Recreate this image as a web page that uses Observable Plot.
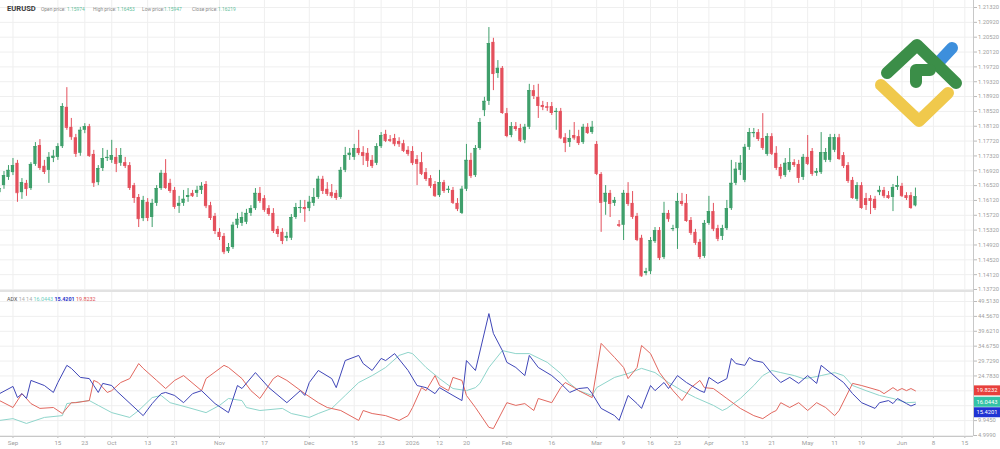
<!DOCTYPE html>
<html><head><meta charset="utf-8">
<script src="https://cdn.jsdelivr.net/npm/d3@7"></script>
<script src="https://cdn.jsdelivr.net/npm/@observablehq/plot@0.6"></script>
<style>
body{margin:0;background:#fff;}
#wrap{position:relative;width:1000px;height:449px;overflow:hidden;background:#fff;font-family:Roboto,"Noto Sans",sans-serif;}
#top,#bot,#ovl{position:absolute;left:0;}
#top{top:0}
#bot{top:291px}
#ovl{top:0;pointer-events:none}
svg{font-family:Roboto,"Noto Sans",sans-serif;}
</style>
</head><body>
<div id="wrap"><div id="top"></div><div id="bot"></div><svg id="ovl" width="1000" height="449"></svg></div>
<script>
// ---------- DATA ----------
const symbol = "EURUSD";
const lastBar = {open: "1.15974", high: "1.16453", low: "1.15947", close: "1.16219"};

const O = [1.1633,1.1652,1.1674,1.1687,1.1712,1.1633,1.1658,1.1644,1.1709,1.1760,
1.1704,1.1693,1.1725,1.1728,1.1757,1.1863,1.1809,1.1781,1.1739,1.1801,
1.1811,1.1736,1.1660,1.1698,1.1725,1.1720,1.1728,1.1712,1.1714,1.1706,
1.1652,1.1620,1.1563,1.1607,1.1566,1.1604,1.1644,1.1685,1.1658,1.1639,
1.1596,1.1604,1.1620,1.1631,1.1631,1.1639,1.1655,1.1598,1.1569,1.1526,
1.1515,1.1474,1.1485,1.1545,1.1550,1.1553,1.1577,1.1590,1.1631,1.1617,
1.1590,1.1577,1.1534,1.1526,1.1510,1.1510,1.1566,1.1590,1.1593,1.1590,
1.1604,1.1620,1.1669,1.1642,1.1633,1.1631,1.1620,1.1693,1.1733,1.1728,
1.1752,1.1741,1.1739,1.1720,1.1712,1.1757,1.1790,1.1776,1.1779,1.1771,
1.1765,1.1747,1.1744,1.1722,1.1714,1.1687,1.1671,1.1655,1.1625,1.1660,
1.1639,1.1639,1.1604,1.1577,1.1642,1.1720,1.1679,1.1752,1.1854,1.1879,
1.2038,1.1954,1.1968,1.1846,1.1787,1.1811,1.1806,1.1774,1.1809,1.1908,
1.1890,1.1868,1.1865,1.1865,1.1849,1.1852,1.1781,1.1768,1.1787,1.1784,
1.1768,1.1809,1.1795,1.1763,1.1682,1.1607,1.1631,1.1604,1.1547,1.1545,
1.1631,1.1604,1.1569,1.1510,1.1415,1.1420,1.1501,1.1531,1.1458,1.1577,
1.1534,1.1536,1.1609,1.1604,1.1558,1.1526,1.1499,1.1461,1.1550,1.1582,
1.1536,1.1515,1.1536,1.1590,1.1658,1.1693,1.1666,1.1755,1.1792,1.1795,
1.1779,1.1736,1.1784,1.1739,1.1701,1.1679,1.1693,1.1714,1.1709,1.1674,
1.1728,1.1744,1.1685,1.1687,1.1720,1.1720,1.1747,1.1781,1.1733,1.1706,
1.1666,1.1615,1.1652,1.1617,1.1617,1.1615,1.1633,1.1639,1.1625,1.1620,
1.1647,1.1650,1.1625,1.1625,1.15974];

const H = [1.1655,1.1690,1.1706,1.1725,1.1720,1.1671,1.1666,1.1714,1.1768,1.1776,
1.1720,1.1741,1.1747,1.1765,1.1873,1.1916,1.1833,1.1790,1.1809,1.1819,
1.1817,1.1747,1.1706,1.1752,1.1747,1.1774,1.1752,1.1752,1.1728,1.1714,
1.1658,1.1628,1.1623,1.1617,1.1615,1.1652,1.1693,1.1722,1.1669,1.1647,
1.1623,1.1639,1.1644,1.1639,1.1650,1.1660,1.1663,1.1607,1.1577,1.1536,
1.1523,1.1496,1.1553,1.1577,1.1580,1.1588,1.1598,1.1644,1.1647,1.1625,
1.1598,1.1590,1.1542,1.1536,1.1526,1.1574,1.1604,1.1612,1.1612,1.1623,
1.1644,1.1677,1.1677,1.1660,1.1655,1.1639,1.1701,1.1755,1.1752,1.1763,
1.1801,1.1757,1.1752,1.1733,1.1765,1.1795,1.1801,1.1787,1.1790,1.1781,
1.1774,1.1757,1.1757,1.1733,1.1741,1.1698,1.1679,1.1663,1.1693,1.1666,
1.1650,1.1647,1.1617,1.1650,1.1763,1.1739,1.1760,1.1833,1.1890,1.2078,
1.2049,1.1989,1.1973,1.1860,1.1822,1.1822,1.1817,1.1817,1.1925,1.1922,
1.1925,1.1879,1.1876,1.1876,1.1860,1.1860,1.1792,1.1801,1.1822,1.1801,
1.1817,1.1819,1.1825,1.1771,1.1687,1.1652,1.1639,1.1620,1.1558,1.1639,
1.1660,1.1636,1.1577,1.1518,1.1429,1.1512,1.1539,1.1539,1.1607,1.1585,
1.1545,1.1631,1.1631,1.1628,1.1566,1.1534,1.1507,1.1558,1.1623,1.1604,
1.1545,1.1545,1.1612,1.1720,1.1714,1.1733,1.1763,1.1806,1.1806,1.1803,
1.1846,1.1792,1.1792,1.1757,1.1709,1.1725,1.1752,1.1722,1.1720,1.1736,
1.1787,1.1752,1.1698,1.1795,1.1752,1.1790,1.1790,1.1790,1.1741,1.1714,
1.1674,1.1660,1.1660,1.1631,1.1625,1.1623,1.1650,1.1647,1.1636,1.1655,
1.1677,1.1658,1.1633,1.1633,1.16453];

const L = [1.1623,1.1642,1.1666,1.1679,1.1607,1.1615,1.1623,1.1639,1.1704,1.1693,
1.1682,1.1658,1.1714,1.1720,1.1752,1.1801,1.1774,1.1728,1.1731,1.1792,
1.1728,1.1647,1.1652,1.1690,1.1717,1.1712,1.1687,1.1704,1.1698,1.1639,
1.1604,1.1539,1.1555,1.1555,1.1539,1.1596,1.1639,1.1642,1.1631,1.1588,
1.1577,1.1596,1.1607,1.1620,1.1620,1.1628,1.1590,1.1558,1.1520,1.1504,
1.1466,1.1469,1.1480,1.1536,1.1542,1.1547,1.1569,1.1585,1.1604,1.1580,
1.1569,1.1523,1.1512,1.1493,1.1501,1.1504,1.1561,1.1577,1.1553,1.1582,
1.1596,1.1615,1.1628,1.1623,1.1617,1.1612,1.1615,1.1687,1.1720,1.1720,
1.1733,1.1706,1.1701,1.1698,1.1706,1.1752,1.1768,1.1768,1.1757,1.1755,
1.1741,1.1731,1.1706,1.1652,1.1679,1.1663,1.1644,1.1620,1.1620,1.1631,
1.1631,1.1601,1.1582,1.1574,1.1636,1.1671,1.1674,1.1747,1.1838,1.1868,
1.1908,1.1941,1.1844,1.1781,1.1781,1.1798,1.1768,1.1765,1.1803,1.1884,
1.1833,1.1854,1.1852,1.1841,1.1801,1.1776,1.1741,1.1755,1.1774,1.1760,
1.1763,1.1790,1.1790,1.1679,1.1526,1.1572,1.1566,1.1596,1.1539,1.1504,
1.1596,1.1561,1.1501,1.1405,1.1409,1.1412,1.1496,1.1450,1.1453,1.1553,
1.1528,1.1480,1.1596,1.1553,1.1518,1.1491,1.1453,1.1456,1.1545,1.1528,
1.1501,1.1504,1.1531,1.1585,1.1652,1.1679,1.1660,1.1747,1.1781,1.1771,
1.1747,1.1731,1.1733,1.1693,1.1669,1.1674,1.1687,1.1701,1.1658,1.1666,
1.1706,1.1677,1.1677,1.1682,1.1714,1.1714,1.1741,1.1720,1.1698,1.1658,
1.1615,1.1609,1.1588,1.1585,1.1574,1.1585,1.1625,1.1617,1.1615,1.1582,
1.1639,1.1620,1.1612,1.1588,1.15947];

const C = [1.1644,1.1679,1.1693,1.1706,1.1633,1.1660,1.1644,1.1709,1.1757,1.1701,
1.1690,1.1728,1.1731,1.1757,1.1865,1.1809,1.1784,1.1739,1.1801,1.1811,
1.1733,1.1660,1.1698,1.1725,1.1728,1.1733,1.1712,1.1733,1.1706,1.1647,
1.1620,1.1563,1.1612,1.1566,1.1604,1.1644,1.1685,1.1647,1.1639,1.1596,
1.1604,1.1615,1.1625,1.1625,1.1639,1.1650,1.1598,1.1566,1.1531,1.1515,
1.1474,1.1485,1.1545,1.1561,1.1566,1.1577,1.1590,1.1631,1.1612,1.1588,
1.1577,1.1531,1.1523,1.1504,1.1515,1.1566,1.1593,1.1593,1.1590,1.1607,
1.1620,1.1669,1.1639,1.1631,1.1625,1.1620,1.1693,1.1733,1.1739,1.1752,
1.1741,1.1733,1.1720,1.1706,1.1757,1.1787,1.1774,1.1774,1.1765,1.1765,
1.1747,1.1739,1.1714,1.1712,1.1685,1.1671,1.1652,1.1625,1.1660,1.1639,
1.1642,1.1607,1.1590,1.1642,1.1720,1.1679,1.1752,1.1822,1.1879,1.2035,
1.1954,1.1968,1.1849,1.1787,1.1811,1.1806,1.1774,1.1809,1.1908,1.1895,
1.1868,1.1865,1.1863,1.1849,1.1852,1.1781,1.1768,1.1779,1.1781,1.1768,
1.1809,1.1795,1.1809,1.1685,1.1607,1.1631,1.1604,1.1612,1.1545,1.1631,
1.1604,1.1569,1.1507,1.1409,1.1420,1.1504,1.1531,1.1458,1.1577,1.1563,
1.1536,1.1609,1.1604,1.1558,1.1526,1.1499,1.1461,1.1550,1.1582,1.1536,
1.1510,1.1536,1.1590,1.1658,1.1696,1.1712,1.1755,1.1795,1.1795,1.1779,
1.1755,1.1784,1.1739,1.1701,1.1679,1.1712,1.1714,1.1709,1.1674,1.1728,
1.1712,1.1685,1.1690,1.1741,1.1741,1.1781,1.1781,1.1725,1.1706,1.1666,
1.1620,1.1652,1.1593,1.1601,1.1612,1.1593,1.1639,1.1625,1.1620,1.1647,
1.1652,1.1625,1.1620,1.1593,1.16219];

// ADX(14,14) components: [bar index, value]
const adx = [[0,10.0],[3,10.6],[6,9.0],[10,11.0],[14,11.6],[15,15.6],[20,16.6],[22,15.0],[25,12.6],[29,11.0],[31,13.3],[34,17.6],[36,18.3],[38,15.9],[42,14.3],[46,12.6],[49,15.0],[51,17.3],[54,16.6],[55,14.3],[58,13.3],[63,14.0],[65,12.3],[69,11.0],[71,12.3],[74,14.0],[77,18.3],[80,22.6],[83,24.9],[86,27.6],[89,31.6],[91,32.6],[92,32.2],[95,27.6],[98,23.9],[101,20.6],[104,19.9],[106,20.9],[107,22.3],[109,27.6],[112,33.2],[115,32.2],[118,32.2],[122,29.3],[125,25.6],[127,22.3],[129,19.9],[132,18.3],[133,20.9],[137,24.3],[140,25.6],[143,27.3],[146,25.9],[149,22.6],[152,19.9],[155,17.6],[159,15.0],[161,13.3],[162,14.0],[165,17.3],[168,21.6],[170,24.9],[172,26.6],[174,25.9],[177,24.9],[179,23.9],[181,24.3],[183,24.9],[186,25.9],[188,24.9],[190,21.6],[193,19.9],[196,18.3],[199,17.3],[202,15.9],[204,16.0443]];
const plusDI = [[0,18.9],[3,21.3],[4,17.6],[5,18.9],[6,17.3],[7,23.3],[10,21.6],[12,19.3],[13,22.6],[15,28.3],[16,27.3],[18,24.3],[20,23.9],[21,21.6],[22,19.3],[23,22.3],[25,21.6],[26,19.9],[32,11.6],[34,15.6],[36,18.9],[37,19.3],[39,18.3],[41,15.9],[43,18.9],[45,19.9],[48,15.6],[51,12.6],[53,21.6],[54,20.6],[57,25.9],[60,20.9],[64,15.9],[67,19.9],[68,18.3],[69,22.6],[71,26.6],[74,23.9],[75,20.9],[77,29.9],[80,31.6],[81,28.9],[83,26.6],[85,30.6],[86,29.9],[88,32.2],[91,26.6],[93,21.6],[95,20.9],[97,18.9],[98,20.9],[101,18.3],[103,16.6],[104,29.9],[106,26.6],[109,45.5],[110,38.9],[112,33.2],[113,29.3],[115,27.6],[117,24.9],[118,31.6],[120,27.6],[123,24.9],[125,22.3],[127,19.3],[129,20.6],[131,20.9],[132,18.9],[134,14.0],[137,11.6],[138,10.0],[140,18.3],[142,15.6],[143,14.0],[145,21.6],[146,19.9],[148,22.6],[149,20.6],[151,24.9],[153,22.6],[156,19.9],[157,19.3],[158,24.3],[160,22.3],[162,23.9],[163,30.6],[164,28.9],[166,28.3],[167,30.9],[168,29.9],[170,29.3],[172,25.6],[174,22.6],[176,24.3],[178,22.3],[180,24.9],[182,22.3],[183,28.3],[185,25.9],[188,22.6],[190,18.9],[192,15.9],[195,14.0],[196,15.9],[198,16.6],[199,15.6],[200,17.3],[202,15.6],[203,14.8],[204,15.4201]];
const minusDI = [[0,16.6],[3,14.3],[5,18.9],[6,17.3],[7,15.6],[9,14.0],[12,14.3],[14,12.3],[16,15.9],[17,15.9],[20,16.6],[21,23.3],[22,22.6],[24,19.3],[25,19.9],[27,22.6],[29,23.9],[31,28.9],[32,27.3],[35,23.3],[37,20.6],[39,23.3],[41,24.9],[45,19.9],[46,23.9],[50,28.3],[51,27.6],[54,23.9],[56,19.9],[58,17.3],[61,23.9],[62,24.9],[64,23.3],[68,18.9],[71,15.9],[73,14.3],[76,13.3],[80,10.0],[81,13.3],[83,12.3],[86,11.6],[89,10.0],[91,11.6],[92,14.3],[94,20.9],[95,19.9],[97,24.9],[98,21.6],[100,19.9],[101,24.3],[103,23.3],[104,18.3],[106,14.3],[109,7.7],[110,7.3],[113,15.9],[115,15.0],[117,15.6],[119,13.3],[120,17.3],[123,15.9],[125,20.9],[126,22.6],[128,20.9],[129,19.9],[132,17.6],[134,35.6],[137,30.9],[139,27.6],[140,23.9],[142,27.6],[143,34.9],[145,32.2],[147,25.9],[150,19.9],[152,16.6],[154,20.9],[156,23.3],[157,20.9],[159,20.6],[162,17.3],[165,14.0],[168,11.6],[170,10.6],[172,12.6],[173,13.3],[174,15.9],[176,14.3],[178,15.9],[180,13.3],[182,15.9],[184,14.3],[186,11.6],[187,13.3],[190,22.3],[192,21.6],[196,19.9],[197,18.9],[199,20.9],[200,19.9],[201,20.6],[202,19.9],[203,20.6],[204,19.8232]];

const priceTicks = [1.1372,1.1412,1.1452,1.1492,1.1532,1.1572,1.1612,1.1652,1.1692,1.1732,1.1772,1.1812,1.1852,1.1892,1.1932,1.1972,1.2012,1.2052,1.2092,1.2132];
const adxTicks = [4.999,9.945,14.891,19.837,24.783,29.729,34.675,39.621,44.567,49.513];
const adxTickHidden = [14.891,19.837]; // covered by the last-value boxes
const dateTickIdx = [3,13,19,25,33,39,49,59,69,79,85,92,98,104,113,123,133,139,145,151,158,166,172,180,186,192,201,208,215];
const dateTickLabels = ["Sep","15","23","Oct","13","21","Nov","17","Dec","15","23","2026","12","20","Feb","16","Mar","9","16","23","Apr","13","21","May","11","19","Jun","8","15"];

// ---------- BUILD ----------
const candles = O.map((o, i) => ({i, o, h: H[i], l: L[i], c: C[i], up: C[i] >= o}));
const labelMap = new Map(dateTickIdx.map((d, k) => [d, dateTickLabels[k]]));
const UP = "#3f9f6b", DOWN = "#e4505c";
const GRID = "#efefef", AXC = "#a0a0a0";
const xDomain = [0.2227, 216.93];
const W = 1000, MR = 27, FS = 5.8;

const topPlot = Plot.plot({
  width: W, height: 291,
  marginLeft: 0, marginRight: MR, marginTop: 0, marginBottom: 0,
  style: {background: "transparent", fontFamily: "Roboto, 'Noto Sans', sans-serif"},
  x: {domain: xDomain, axis: null},
  y: {domain: [1.13666, 1.21509], axis: null},
  marks: [
    Plot.gridX(dateTickIdx, {stroke: GRID, strokeOpacity: 1}),
    Plot.gridY(priceTicks, {stroke: GRID, strokeOpacity: 1}),
    Plot.axisY(priceTicks, {anchor: "right", tickSize: 3, tickPadding: 1.5, fontSize: FS, color: AXC, stroke: "#bbb", tickFormat: d => d.toFixed(5)}),
    Plot.ruleX([xDomain[1]], {stroke: "#c8c8c8"}),
    Plot.ruleX(candles, {x: "i", y1: "l", y2: "h", stroke: d => d.up ? UP : DOWN, strokeWidth: 1}),
    Plot.rect(candles, {x1: d => d.i - 0.36, x2: d => d.i + 0.36, y1: "o", y2: "c", fill: d => d.up ? UP : DOWN}),
    Plot.ruleY(candles, {y: "c", x1: d => d.i - 0.36, x2: d => d.i + 0.36, stroke: d => d.up ? UP : DOWN, strokeWidth: 1})
  ]
});
document.getElementById("top").appendChild(topPlot);

const BLUE = "#3f46b8", RED = "#e2685f", TEAL = "#8fd5cb";
const botPlot = Plot.plot({
  width: W, height: 158,
  marginLeft: 0, marginRight: MR, marginTop: 0, marginBottom: 13,
  style: {background: "transparent", fontFamily: "Roboto, 'Noto Sans', sans-serif"},
  x: {domain: xDomain, axis: null},
  y: {domain: [4.667, 52.835], axis: null},
  marks: [
    Plot.gridX(dateTickIdx, {stroke: GRID, strokeOpacity: 1}),
    Plot.gridY(adxTicks, {stroke: GRID, strokeOpacity: 1}),
    Plot.axisY(adxTicks.filter(t => !adxTickHidden.includes(t)), {anchor: "right", tickSize: 3, tickPadding: 1.5, fontSize: FS, color: AXC, stroke: "#bbb", tickFormat: d => d.toFixed(4)}),
    Plot.axisX(dateTickIdx, {anchor: "bottom", tickSize: 2, tickPadding: 2, fontSize: 6.2, color: AXC, stroke: "#bbb", tickFormat: d => labelMap.get(d)}),
    Plot.ruleY([4.667], {stroke: "#c8c8c8"}),
    Plot.ruleX([xDomain[1]], {stroke: "#c8c8c8"}),
    Plot.line(adx, {x: d => d[0], y: d => d[1], stroke: TEAL, strokeWidth: 1}),
    Plot.line(minusDI, {x: d => d[0], y: d => d[1], stroke: RED, strokeWidth: 1}),
    Plot.line(plusDI, {x: d => d[0], y: d => d[1], stroke: BLUE, strokeWidth: 1})
  ]
});
document.getElementById("bot").appendChild(botPlot);

// ---------- OVERLAY: header, legend, value boxes, logo ----------
const ovl = d3.select("#ovl");
ovl.append("rect").attr("x", 0).attr("y", 290).attr("width", 973).attr("height", 2).attr("fill", "#e2e2e2");

ovl.append("text").attr("x", 7).attr("y", 11).attr("font-size", 7.6).attr("font-weight", 700).attr("fill", "#3a3a3a").text(symbol);
const hdrItems = [["Open price:", lastBar.open, 41, 67], ["High price:", lastBar.high, 93, 117], ["Low price:", lastBar.low, 142, 164], ["Close price:", lastBar.close, 192, 218]];
hdrItems.forEach(([k, v, xk, xv]) => {
  ovl.append("text").attr("x", xk).attr("y", 10.5).attr("font-size", 4.9).attr("fill", "#8a8a8a").text(k);
  ovl.append("text").attr("x", xv).attr("y", 10.5).attr("font-size", 4.9).attr("fill", "#5fc09a").text(v);
});

const lg = ovl.append("text").attr("x", 7).attr("y", 300.5).attr("font-size", 5.4).attr("fill", "#555");
lg.append("tspan").text("ADX ");
lg.append("tspan").attr("fill", "#aaa").text("14 14 ");
lg.append("tspan").attr("fill", "#6fcfc0").text(adx[adx.length - 1][1].toFixed(4) + " ");
lg.append("tspan").attr("fill", "#2a35c9").attr("font-weight", 700).text(plusDI[plusDI.length - 1][1].toFixed(4) + " ");
lg.append("tspan").attr("fill", "#e05050").text(minusDI[minusDI.length - 1][1].toFixed(4));

const ys = botPlot.scale("y");
const boxes = [
  {v: minusDI[minusDI.length - 1][1], bg: "#e8403c"},
  {v: adx[adx.length - 1][1], bg: "#33c2a6"},
  {v: plusDI[plusDI.length - 1][1], bg: "#1f33d3"}
].map(b => ({...b, y: 291 + ys.apply(b.v)})).sort((a, b) => a.y - b.y);
for (let k = 1; k < boxes.length; k++) if (boxes[k].y - boxes[k - 1].y < 10.5) boxes[k].y = boxes[k - 1].y + 10.5;
boxes.forEach(b => {
  ovl.append("rect").attr("x", 974).attr("y", b.y - 5).attr("width", 26).attr("height", 10).attr("fill", b.bg);
  ovl.append("text").attr("x", 976.5).attr("y", b.y + 2.1).attr("font-size", FS).attr("fill", "#fff").text(b.v.toFixed(4));
});

// logo (top right)
const g = ovl.append("g").attr("fill", "none").attr("stroke-linecap", "round").attr("stroke-linejoin", "round").attr("stroke-width", 12);
g.append("path").attr("d", "M938,63 L952,48").attr("stroke", "#3d8fdc");
g.append("path").attr("d", "M887,73 L917,45 L956,83").attr("stroke", "#3b8e48");
g.append("path").attr("d", "M916,82 L916,70 L930,70").attr("stroke", "#3b8e48");
g.append("path").attr("d", "M881,85 L919,121 L948,93").attr("stroke", "#f0c94c");
</script>
</body></html>
